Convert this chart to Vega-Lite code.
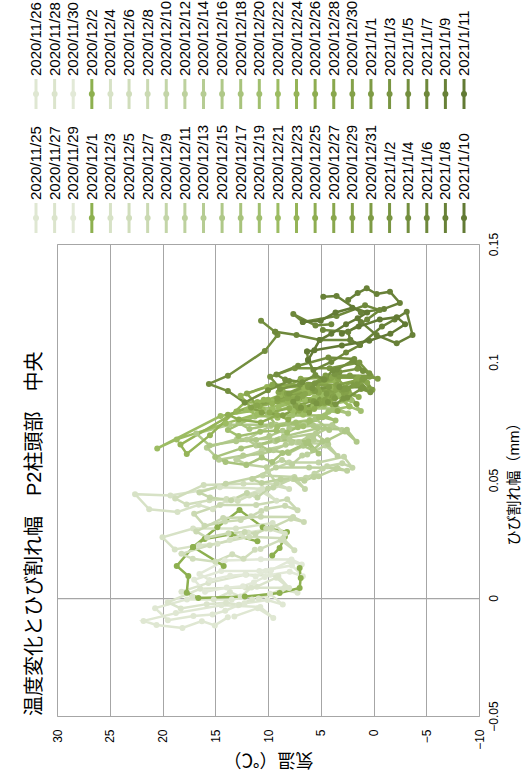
{
  "$schema": "https://vega.github.io/schema/vega-lite/v6.json",
  "width": 422,
  "height": 472,
  "autosize": {"type": "none"},
  "padding": {"left": 57, "top": 244, "right": 52, "bottom": 66},
  "background": "white",
  "config": {
    "font": "Liberation Sans, Noto Sans CJK JP, sans-serif",
    "view": {"stroke": "#a6a6a6", "strokeWidth": 1}
  },
  "title": {
    "text": "温度変化とひび割れ幅　P2柱頭部　中央",
    "orient": "left",
    "anchor": "start",
    "frame": "group",
    "fontSize": 20,
    "fontWeight": "normal",
    "color": "#000000",
    "offset": -16
  },
  "datasets": {
    "days": [
      {"d": "2020/11/25"}, {"d": "2020/11/26"}, {"d": "2020/11/27"}, {"d": "2020/11/28"}, {"d": "2020/11/29"}, {"d": "2020/11/30"},
      {"d": "2020/12/1"}, {"d": "2020/12/2"}, {"d": "2020/12/3"}, {"d": "2020/12/4"}, {"d": "2020/12/5"}, {"d": "2020/12/6"},
      {"d": "2020/12/7"}, {"d": "2020/12/8"}, {"d": "2020/12/9"}, {"d": "2020/12/10"}, {"d": "2020/12/11"}, {"d": "2020/12/12"},
      {"d": "2020/12/13"}, {"d": "2020/12/14"}, {"d": "2020/12/15"}, {"d": "2020/12/16"}, {"d": "2020/12/17"}, {"d": "2020/12/18"},
      {"d": "2020/12/19"}, {"d": "2020/12/20"}, {"d": "2020/12/21"}, {"d": "2020/12/22"}, {"d": "2020/12/23"}, {"d": "2020/12/24"},
      {"d": "2020/12/25"}, {"d": "2020/12/26"}, {"d": "2020/12/27"}, {"d": "2020/12/28"}, {"d": "2020/12/29"}, {"d": "2020/12/30"},
      {"d": "2020/12/31"}, {"d": "2021/1/1"}, {"d": "2021/1/2"}, {"d": "2021/1/3"}, {"d": "2021/1/4"}, {"d": "2021/1/5"},
      {"d": "2021/1/6"}, {"d": "2021/1/7"}, {"d": "2021/1/8"}, {"d": "2021/1/9"}, {"d": "2021/1/10"}, {"d": "2021/1/11"}
    ],
    "readings": [
      {"d":"2020/11/25","t":13.19,"w":-0.0078},{"d":"2020/11/25","t":10.98,"w":-0.0043},{"d":"2020/11/25","t":9.5,"w":-0.0085},{"d":"2020/11/25","t":10.73,"w":-0.0038},{"d":"2020/11/25","t":14.42,"w":-0.0031},{"d":"2020/11/25","t":18.73,"w":-0.0064},{"d":"2020/11/25","t":21.8,"w":-0.0097},{"d":"2020/11/25","t":20.57,"w":-0.0114},{"d":"2020/11/25","t":18.11,"w":-0.0127},{"d":"2020/11/25","t":16.27,"w":-0.0098},{"d":"2020/11/25","t":15.04,"w":-0.0116},{"d":"2020/11/25","t":13.81,"w":-0.0082},
      {"d":"2020/11/26","t":12.23,"w":-0.0022},{"d":"2020/11/26","t":10.05,"w":-0.0009},{"d":"2020/11/26","t":8.6,"w":-0.0028},{"d":"2020/11/26","t":9.81,"w":0.0018},{"d":"2020/11/26","t":13.44,"w":-0.0006},{"d":"2020/11/26","t":17.68,"w":-0.0006},{"d":"2020/11/26","t":20.7,"w":-0.0043},{"d":"2020/11/26","t":19.49,"w":-0.0094},{"d":"2020/11/26","t":17.07,"w":-0.0076},{"d":"2020/11/26","t":15.26,"w":-0.007},{"d":"2020/11/26","t":14.05,"w":-0.0054},{"d":"2020/11/26","t":12.84,"w":-0.0031},
      {"d":"2020/11/27","t":10.89,"w":-0.0002},{"d":"2020/11/27","t":8.68,"w":0.0036},{"d":"2020/11/27","t":7.2,"w":0.0022},{"d":"2020/11/27","t":8.43,"w":0.0043},{"d":"2020/11/27","t":12.12,"w":0.0044},{"d":"2020/11/27","t":16.43,"w":0.0039},{"d":"2020/11/27","t":19.5,"w":-0.0018},{"d":"2020/11/27","t":18.27,"w":-0.0044},{"d":"2020/11/27","t":15.81,"w":-0.0026},{"d":"2020/11/27","t":13.97,"w":-0.002},{"d":"2020/11/27","t":12.74,"w":-0.0029},{"d":"2020/11/27","t":11.51,"w":-0.0006},
      {"d":"2020/11/28","t":11.06,"w":0.0048},{"d":"2020/11/28","t":9.22,"w":0.0086},{"d":"2020/11/28","t":8.0,"w":0.0042},{"d":"2020/11/28","t":9.02,"w":0.0093},{"d":"2020/11/28","t":12.08,"w":0.0099},{"d":"2020/11/28","t":15.65,"w":0.0064},{"d":"2020/11/28","t":18.2,"w":0.0027},{"d":"2020/11/28","t":17.18,"w":0.0006},{"d":"2020/11/28","t":15.14,"w":-0.0006},{"d":"2020/11/28","t":13.61,"w":0.0025},{"d":"2020/11/28","t":12.59,"w":0.0006},{"d":"2020/11/28","t":11.57,"w":0.0044},
      {"d":"2020/11/29","t":9.79,"w":0.0098},{"d":"2020/11/29","t":7.94,"w":0.0111},{"d":"2020/11/29","t":6.7,"w":0.0092},{"d":"2020/11/29","t":7.73,"w":0.0138},{"d":"2020/11/29","t":10.82,"w":0.0114},{"d":"2020/11/29","t":14.43,"w":0.0114},{"d":"2020/11/29","t":17.0,"w":0.0077},{"d":"2020/11/29","t":15.97,"w":0.0026},{"d":"2020/11/29","t":13.91,"w":0.0044},{"d":"2020/11/29","t":12.37,"w":0.005},{"d":"2020/11/29","t":11.34,"w":0.0066},{"d":"2020/11/29","t":10.31,"w":0.0089},
      {"d":"2020/11/30","t":9.71,"w":0.0118},{"d":"2020/11/30","t":7.96,"w":0.0156},{"d":"2020/11/30","t":6.8,"w":0.0142},{"d":"2020/11/30","t":7.77,"w":0.0163},{"d":"2020/11/30","t":10.68,"w":0.0164},{"d":"2020/11/30","t":14.08,"w":0.0159},{"d":"2020/11/30","t":16.5,"w":0.0102},{"d":"2020/11/30","t":15.53,"w":0.0076},{"d":"2020/11/30","t":13.59,"w":0.0094},{"d":"2020/11/30","t":12.14,"w":0.010},{"d":"2020/11/30","t":11.17,"w":0.0091},{"d":"2020/11/30","t":10.2,"w":0.0114},
      {"d":"2020/12/1","t":14.2,"w":0.0136},{"d":"2020/12/1","t":17.1,"w":0.0216},{"d":"2020/12/1","t":18.65,"w":0.0136},{"d":"2020/12/1","t":17.55,"w":0.0093},{"d":"2020/12/1","t":17.7,"w":0.0022},{"d":"2020/12/1","t":16.6,"w":0.0},{"d":"2020/12/1","t":12.2,"w":0.0006},{"d":"2020/12/1","t":8.9,"w":0.0021},{"d":"2020/12/1","t":7.0,"w":0.0042},{"d":"2020/12/1","t":6.9,"w":0.0085},{"d":"2020/12/1","t":7.0,"w":0.0127},
      {"d":"2020/12/2","t":9.6,"w":0.018},{"d":"2020/12/2","t":8.9,"w":0.0212},{"d":"2020/12/2","t":8.4,"w":0.026},{"d":"2020/12/2","t":8.2,"w":0.028},{"d":"2020/12/2","t":10.5,"w":0.030},{"d":"2020/12/2","t":12.7,"w":0.0373},{"d":"2020/12/2","t":14.8,"w":0.030},{"d":"2020/12/2","t":17.1,"w":0.0216},{"d":"2020/12/2","t":16.0,"w":0.025},{"d":"2020/12/2","t":13.5,"w":0.027},{"d":"2020/12/2","t":11.0,"w":0.024},
      {"d":"2020/12/3","t":13.22,"w":0.0418},{"d":"2020/12/3","t":10.81,"w":0.0456},{"d":"2020/12/3","t":9.2,"w":0.0412},{"d":"2020/12/3","t":10.54,"w":0.0463},{"d":"2020/12/3","t":14.56,"w":0.0469},{"d":"2020/12/3","t":19.25,"w":0.0434},{"d":"2020/12/3","t":22.6,"w":0.044},{"d":"2020/12/3","t":21.26,"w":0.0376},{"d":"2020/12/3","t":18.58,"w":0.0364},{"d":"2020/12/3","t":16.57,"w":0.0395},{"d":"2020/12/3","t":15.23,"w":0.0376},{"d":"2020/12/3","t":13.89,"w":0.0414},
      {"d":"2020/12/4","t":11.88,"w":0.0278},{"d":"2020/12/4","t":9.79,"w":0.0291},{"d":"2020/12/4","t":8.4,"w":0.0272},{"d":"2020/12/4","t":9.56,"w":0.0318},{"d":"2020/12/4","t":13.04,"w":0.0294},{"d":"2020/12/4","t":17.1,"w":0.0294},{"d":"2020/12/4","t":20.0,"w":0.0257},{"d":"2020/12/4","t":18.84,"w":0.0206},{"d":"2020/12/4","t":16.52,"w":0.0224},{"d":"2020/12/4","t":14.78,"w":0.023},{"d":"2020/12/4","t":13.62,"w":0.0246},{"d":"2020/12/4","t":12.46,"w":0.0269},
      {"d":"2020/12/5","t":11.24,"w":0.0438},{"d":"2020/12/5","t":9.3,"w":0.0476},{"d":"2020/12/5","t":8.0,"w":0.0462},{"d":"2020/12/5","t":9.08,"w":0.0483},{"d":"2020/12/5","t":12.32,"w":0.0484},{"d":"2020/12/5","t":16.1,"w":0.0479},{"d":"2020/12/5","t":18.8,"w":0.0422},{"d":"2020/12/5","t":17.72,"w":0.0396},{"d":"2020/12/5","t":15.56,"w":0.0414},{"d":"2020/12/5","t":13.94,"w":0.042},{"d":"2020/12/5","t":12.86,"w":0.0411},{"d":"2020/12/5","t":11.78,"w":0.0434},
      {"d":"2020/12/6","t":10.71,"w":0.0208},{"d":"2020/12/6","t":8.78,"w":0.0246},{"d":"2020/12/6","t":7.5,"w":0.0202},{"d":"2020/12/6","t":8.57,"w":0.0253},{"d":"2020/12/6","t":11.78,"w":0.0259},{"d":"2020/12/6","t":15.53,"w":0.0224},{"d":"2020/12/6","t":18.2,"w":0.0187},{"d":"2020/12/6","t":17.13,"w":0.0166},{"d":"2020/12/6","t":14.99,"w":0.0154},{"d":"2020/12/6","t":13.39,"w":0.0185},{"d":"2020/12/6","t":12.32,"w":0.0166},{"d":"2020/12/6","t":11.25,"w":0.0204},
      {"d":"2020/12/7","t":10.14,"w":0.0378},{"d":"2020/12/7","t":8.38,"w":0.0391},{"d":"2020/12/7","t":7.2,"w":0.0372},{"d":"2020/12/7","t":8.18,"w":0.0418},{"d":"2020/12/7","t":11.12,"w":0.0394},{"d":"2020/12/7","t":14.55,"w":0.0394},{"d":"2020/12/7","t":17.0,"w":0.0357},{"d":"2020/12/7","t":16.02,"w":0.0306},{"d":"2020/12/7","t":14.06,"w":0.0324},{"d":"2020/12/7","t":12.59,"w":0.033},{"d":"2020/12/7","t":11.61,"w":0.0346},{"d":"2020/12/7","t":10.63,"w":0.0369},
      {"d":"2020/12/8","t":9.66,"w":0.0298},{"d":"2020/12/8","t":7.82,"w":0.0336},{"d":"2020/12/8","t":6.6,"w":0.0322},{"d":"2020/12/8","t":7.62,"w":0.0343},{"d":"2020/12/8","t":10.68,"w":0.0344},{"d":"2020/12/8","t":14.25,"w":0.0339},{"d":"2020/12/8","t":16.8,"w":0.0282},{"d":"2020/12/8","t":15.78,"w":0.0256},{"d":"2020/12/8","t":13.74,"w":0.0274},{"d":"2020/12/8","t":12.21,"w":0.028},{"d":"2020/12/8","t":11.19,"w":0.0271},{"d":"2020/12/8","t":10.17,"w":0.0294},
      {"d":"2020/12/9","t":9.5,"w":0.0468},{"d":"2020/12/9","t":7.7,"w":0.0506},{"d":"2020/12/9","t":6.5,"w":0.0462},{"d":"2020/12/9","t":7.5,"w":0.0513},{"d":"2020/12/9","t":10.5,"w":0.0519},{"d":"2020/12/9","t":14.0,"w":0.0484},{"d":"2020/12/9","t":16.5,"w":0.0447},{"d":"2020/12/9","t":15.5,"w":0.0426},{"d":"2020/12/9","t":13.5,"w":0.0414},{"d":"2020/12/9","t":12.0,"w":0.0445},{"d":"2020/12/9","t":11.0,"w":0.0426},{"d":"2020/12/9","t":10.0,"w":0.0464},
      {"d":"2020/12/10","t":4.4,"w":0.0558},{"d":"2020/12/10","t":2.96,"w":0.0571},{"d":"2020/12/10","t":2.0,"w":0.0552},{"d":"2020/12/10","t":2.8,"w":0.0598},{"d":"2020/12/10","t":5.2,"w":0.0574},{"d":"2020/12/10","t":8.0,"w":0.0574},{"d":"2020/12/10","t":10.0,"w":0.0537},{"d":"2020/12/10","t":9.2,"w":0.0486},{"d":"2020/12/10","t":7.6,"w":0.0504},{"d":"2020/12/10","t":6.4,"w":0.051},{"d":"2020/12/10","t":5.6,"w":0.0526},{"d":"2020/12/10","t":4.8,"w":0.0549},
      {"d":"2020/12/11","t":5.2,"w":0.0516},{"d":"2020/12/11","t":3.58,"w":0.0547},{"d":"2020/12/11","t":2.5,"w":0.0539},{"d":"2020/12/11","t":3.4,"w":0.0551},{"d":"2020/12/11","t":6.1,"w":0.0553},{"d":"2020/12/11","t":9.25,"w":0.0553},{"d":"2020/12/11","t":11.5,"w":0.0504},{"d":"2020/12/11","t":10.6,"w":0.0487},{"d":"2020/12/11","t":8.8,"w":0.0503},{"d":"2020/12/11","t":7.45,"w":0.0505},{"d":"2020/12/11","t":6.55,"w":0.0497},{"d":"2020/12/11","t":5.65,"w":0.0513},
      {"d":"2020/12/12","t":6.28,"w":0.0608},{"d":"2020/12/12","t":4.55,"w":0.0646},{"d":"2020/12/12","t":3.4,"w":0.0602},{"d":"2020/12/12","t":4.36,"w":0.0653},{"d":"2020/12/12","t":7.24,"w":0.0659},{"d":"2020/12/12","t":10.6,"w":0.0624},{"d":"2020/12/12","t":13.0,"w":0.0587},{"d":"2020/12/12","t":12.04,"w":0.0566},{"d":"2020/12/12","t":10.12,"w":0.0554},{"d":"2020/12/12","t":8.68,"w":0.0585},{"d":"2020/12/12","t":7.72,"w":0.0566},{"d":"2020/12/12","t":6.76,"w":0.0604},
      {"d":"2020/12/13","t":7.75,"w":0.0658},{"d":"2020/12/13","t":5.68,"w":0.0671},{"d":"2020/12/13","t":4.3,"w":0.0652},{"d":"2020/12/13","t":5.45,"w":0.0698},{"d":"2020/12/13","t":8.9,"w":0.0674},{"d":"2020/12/13","t":12.93,"w":0.0674},{"d":"2020/12/13","t":15.8,"w":0.0637},{"d":"2020/12/13","t":14.65,"w":0.0586},{"d":"2020/12/13","t":12.35,"w":0.0604},{"d":"2020/12/13","t":10.63,"w":0.061},{"d":"2020/12/13","t":9.48,"w":0.0626},{"d":"2020/12/13","t":8.33,"w":0.0649},
      {"d":"2020/12/14","t":5.7,"w":0.0688},{"d":"2020/12/14","t":4.08,"w":0.0726},{"d":"2020/12/14","t":3.0,"w":0.0712},{"d":"2020/12/14","t":3.9,"w":0.0733},{"d":"2020/12/14","t":6.6,"w":0.0734},{"d":"2020/12/14","t":9.75,"w":0.0729},{"d":"2020/12/14","t":12.0,"w":0.0672},{"d":"2020/12/14","t":11.1,"w":0.0646},{"d":"2020/12/14","t":9.3,"w":0.0664},{"d":"2020/12/14","t":7.95,"w":0.067},{"d":"2020/12/14","t":7.05,"w":0.0661},{"d":"2020/12/14","t":6.15,"w":0.0684},
      {"d":"2020/12/15","t":4.36,"w":0.0668},{"d":"2020/12/15","t":2.7,"w":0.0706},{"d":"2020/12/15","t":1.6,"w":0.0662},{"d":"2020/12/15","t":2.52,"w":0.0713},{"d":"2020/12/15","t":5.28,"w":0.0719},{"d":"2020/12/15","t":8.5,"w":0.0684},{"d":"2020/12/15","t":10.8,"w":0.0647},{"d":"2020/12/15","t":9.88,"w":0.0626},{"d":"2020/12/15","t":8.04,"w":0.0614},{"d":"2020/12/15","t":6.66,"w":0.0645},{"d":"2020/12/15","t":5.74,"w":0.0626},{"d":"2020/12/15","t":4.82,"w":0.0664},
      {"d":"2020/12/16","t":7.98,"w":0.0718},{"d":"2020/12/16","t":5.71,"w":0.0731},{"d":"2020/12/16","t":4.2,"w":0.0712},{"d":"2020/12/16","t":5.46,"w":0.0758},{"d":"2020/12/16","t":9.24,"w":0.0734},{"d":"2020/12/16","t":13.65,"w":0.0734},{"d":"2020/12/16","t":16.8,"w":0.0697},{"d":"2020/12/16","t":15.54,"w":0.0646},{"d":"2020/12/16","t":13.02,"w":0.0664},{"d":"2020/12/16","t":11.13,"w":0.067},{"d":"2020/12/16","t":9.87,"w":0.0686},{"d":"2020/12/16","t":8.61,"w":0.0709},
      {"d":"2020/12/17","t":5.52,"w":0.0758},{"d":"2020/12/17","t":3.65,"w":0.0796},{"d":"2020/12/17","t":2.4,"w":0.0782},{"d":"2020/12/17","t":3.44,"w":0.0803},{"d":"2020/12/17","t":6.56,"w":0.0804},{"d":"2020/12/17","t":10.2,"w":0.0799},{"d":"2020/12/17","t":12.8,"w":0.0742},{"d":"2020/12/17","t":11.76,"w":0.0716},{"d":"2020/12/17","t":9.68,"w":0.0734},{"d":"2020/12/17","t":8.12,"w":0.074},{"d":"2020/12/17","t":7.08,"w":0.0731},{"d":"2020/12/17","t":6.04,"w":0.0754},
      {"d":"2020/12/18","t":8.14,"w":0.0618},{"d":"2020/12/18","t":6.38,"w":0.0656},{"d":"2020/12/18","t":5.2,"w":0.0612},{"d":"2020/12/18","t":6.18,"w":0.0663},{"d":"2020/12/18","t":9.12,"w":0.0669},{"d":"2020/12/18","t":12.55,"w":0.0634},{"d":"2020/12/18","t":15.0,"w":0.0597},{"d":"2020/12/18","t":14.02,"w":0.0576},{"d":"2020/12/18","t":12.06,"w":0.0564},{"d":"2020/12/18","t":10.59,"w":0.0595},{"d":"2020/12/18","t":9.61,"w":0.0576},{"d":"2020/12/18","t":8.63,"w":0.0614},
      {"d":"2020/12/19","t":3.84,"w":0.0798},{"d":"2020/12/19","t":2.26,"w":0.0811},{"d":"2020/12/19","t":1.2,"w":0.0792},{"d":"2020/12/19","t":2.08,"w":0.0838},{"d":"2020/12/19","t":4.72,"w":0.0814},{"d":"2020/12/19","t":7.8,"w":0.0814},{"d":"2020/12/19","t":10.0,"w":0.0777},{"d":"2020/12/19","t":9.12,"w":0.0726},{"d":"2020/12/19","t":7.36,"w":0.0744},{"d":"2020/12/19","t":6.04,"w":0.075},{"d":"2020/12/19","t":5.16,"w":0.0766},{"d":"2020/12/19","t":4.28,"w":0.0789},
      {"d":"2020/12/20","t":6.66,"w":0.0728},{"d":"2020/12/20","t":4.82,"w":0.0766},{"d":"2020/12/20","t":3.6,"w":0.0752},{"d":"2020/12/20","t":4.62,"w":0.0773},{"d":"2020/12/20","t":7.68,"w":0.0774},{"d":"2020/12/20","t":11.25,"w":0.0769},{"d":"2020/12/20","t":13.8,"w":0.0712},{"d":"2020/12/20","t":12.78,"w":0.0686},{"d":"2020/12/20","t":10.74,"w":0.0704},{"d":"2020/12/20","t":9.21,"w":0.071},{"d":"2020/12/20","t":8.19,"w":0.0701},{"d":"2020/12/20","t":7.17,"w":0.0724},
      {"d":"2020/12/21","t":5.21,"w":0.0818},{"d":"2020/12/21","t":3.46,"w":0.0856},{"d":"2020/12/21","t":2.3,"w":0.0812},{"d":"2020/12/21","t":3.27,"w":0.0863},{"d":"2020/12/21","t":6.18,"w":0.0869},{"d":"2020/12/21","t":9.58,"w":0.0834},{"d":"2020/12/21","t":12.0,"w":0.0797},{"d":"2020/12/21","t":11.03,"w":0.0776},{"d":"2020/12/21","t":9.09,"w":0.0764},{"d":"2020/12/21","t":7.64,"w":0.0795},{"d":"2020/12/21","t":6.67,"w":0.0776},{"d":"2020/12/21","t":5.7,"w":0.0814},
      {"d":"2020/12/22","t":9.0,"w":0.081},{"d":"2020/12/22","t":7.2,"w":0.083},{"d":"2020/12/22","t":5.6,"w":0.085},{"d":"2020/12/22","t":4.8,"w":0.086},{"d":"2020/12/22","t":6.5,"w":0.084},{"d":"2020/12/22","t":10.5,"w":0.080},{"d":"2020/12/22","t":14.5,"w":0.0771},{"d":"2020/12/22","t":20.5,"w":0.0634},{"d":"2020/12/22","t":18.65,"w":0.0672},{"d":"2020/12/22","t":14.0,"w":0.074},{"d":"2020/12/22","t":11.0,"w":0.078},{"d":"2020/12/22","t":9.6,"w":0.080},
      {"d":"2020/12/23","t":10.0,"w":0.084},{"d":"2020/12/23","t":8.2,"w":0.086},{"d":"2020/12/23","t":6.5,"w":0.088},{"d":"2020/12/23","t":5.8,"w":0.089},{"d":"2020/12/23","t":8.8,"w":0.086},{"d":"2020/12/23","t":13.0,"w":0.079},{"d":"2020/12/23","t":18.3,"w":0.065},{"d":"2020/12/23","t":17.7,"w":0.061},{"d":"2020/12/23","t":15.5,"w":0.069},{"d":"2020/12/23","t":12.2,"w":0.0828},{"d":"2020/12/23","t":11.0,"w":0.083},{"d":"2020/12/23","t":10.4,"w":0.084},
      {"d":"2020/12/24","t":5.6,"w":0.0878},{"d":"2020/12/24","t":3.8,"w":0.0891},{"d":"2020/12/24","t":2.6,"w":0.0872},{"d":"2020/12/24","t":3.6,"w":0.0918},{"d":"2020/12/24","t":6.6,"w":0.0894},{"d":"2020/12/24","t":10.1,"w":0.0894},{"d":"2020/12/24","t":12.6,"w":0.0857},{"d":"2020/12/24","t":11.6,"w":0.0806},{"d":"2020/12/24","t":9.6,"w":0.0824},{"d":"2020/12/24","t":8.1,"w":0.083},{"d":"2020/12/24","t":7.1,"w":0.0846},{"d":"2020/12/24","t":6.1,"w":0.0869},
      {"d":"2020/12/25","t":4.22,"w":0.0828},{"d":"2020/12/25","t":2.53,"w":0.0866},{"d":"2020/12/25","t":1.4,"w":0.0852},{"d":"2020/12/25","t":2.34,"w":0.0873},{"d":"2020/12/25","t":5.16,"w":0.0874},{"d":"2020/12/25","t":8.45,"w":0.0869},{"d":"2020/12/25","t":10.8,"w":0.0812},{"d":"2020/12/25","t":9.86,"w":0.0786},{"d":"2020/12/25","t":7.98,"w":0.0804},{"d":"2020/12/25","t":6.57,"w":0.081},{"d":"2020/12/25","t":5.63,"w":0.0801},{"d":"2020/12/25","t":4.69,"w":0.0824},
      {"d":"2020/12/26","t":6.52,"w":0.0798},{"d":"2020/12/26","t":4.65,"w":0.0836},{"d":"2020/12/26","t":3.4,"w":0.0792},{"d":"2020/12/26","t":4.44,"w":0.0843},{"d":"2020/12/26","t":7.56,"w":0.0849},{"d":"2020/12/26","t":11.2,"w":0.0814},{"d":"2020/12/26","t":13.8,"w":0.0777},{"d":"2020/12/26","t":12.76,"w":0.0756},{"d":"2020/12/26","t":10.68,"w":0.0744},{"d":"2020/12/26","t":9.12,"w":0.0775},{"d":"2020/12/26","t":8.08,"w":0.0756},{"d":"2020/12/26","t":7.04,"w":0.0794},
      {"d":"2020/12/27","t":5.28,"w":0.0888},{"d":"2020/12/27","t":3.55,"w":0.0901},{"d":"2020/12/27","t":2.4,"w":0.0882},{"d":"2020/12/27","t":3.36,"w":0.0928},{"d":"2020/12/27","t":6.24,"w":0.0904},{"d":"2020/12/27","t":9.6,"w":0.0904},{"d":"2020/12/27","t":12.0,"w":0.0867},{"d":"2020/12/27","t":11.04,"w":0.0816},{"d":"2020/12/27","t":9.12,"w":0.0834},{"d":"2020/12/27","t":7.68,"w":0.084},{"d":"2020/12/27","t":6.72,"w":0.0856},{"d":"2020/12/27","t":5.76,"w":0.0879},
      {"d":"2020/12/28","t":3.12,"w":0.0888},{"d":"2020/12/28","t":1.61,"w":0.0926},{"d":"2020/12/28","t":0.6,"w":0.0912},{"d":"2020/12/28","t":1.44,"w":0.0933},{"d":"2020/12/28","t":3.96,"w":0.0934},{"d":"2020/12/28","t":6.9,"w":0.0929},{"d":"2020/12/28","t":9.0,"w":0.0872},{"d":"2020/12/28","t":8.16,"w":0.0846},{"d":"2020/12/28","t":6.48,"w":0.0864},{"d":"2020/12/28","t":5.22,"w":0.087},{"d":"2020/12/28","t":4.38,"w":0.0861},{"d":"2020/12/28","t":3.54,"w":0.0884},
      {"d":"2020/12/29","t":4.6,"w":0.0828},{"d":"2020/12/29","t":2.8,"w":0.0866},{"d":"2020/12/29","t":1.6,"w":0.0822},{"d":"2020/12/29","t":2.6,"w":0.0873},{"d":"2020/12/29","t":5.6,"w":0.0879},{"d":"2020/12/29","t":9.1,"w":0.0844},{"d":"2020/12/29","t":11.6,"w":0.0807},{"d":"2020/12/29","t":10.6,"w":0.0786},{"d":"2020/12/29","t":8.6,"w":0.0774},{"d":"2020/12/29","t":7.1,"w":0.0805},{"d":"2020/12/29","t":6.1,"w":0.0786},{"d":"2020/12/29","t":5.1,"w":0.0824},
      {"d":"2020/12/30","t":2.6,"w":0.0888},{"d":"2020/12/30","t":1.16,"w":0.0901},{"d":"2020/12/30","t":0.2,"w":0.0882},{"d":"2020/12/30","t":1.0,"w":0.0928},{"d":"2020/12/30","t":3.4,"w":0.0904},{"d":"2020/12/30","t":6.2,"w":0.0904},{"d":"2020/12/30","t":8.2,"w":0.0867},{"d":"2020/12/30","t":7.4,"w":0.0816},{"d":"2020/12/30","t":5.8,"w":0.0834},{"d":"2020/12/30","t":4.6,"w":0.084},{"d":"2020/12/30","t":3.8,"w":0.0856},{"d":"2020/12/30","t":3.0,"w":0.0879},
      {"d":"2020/12/31","t":1.58,"w":0.0906},{"d":"2020/12/31","t":0.39,"w":0.0937},{"d":"2020/12/31","t":-0.4,"w":0.0929},{"d":"2020/12/31","t":0.26,"w":0.0941},{"d":"2020/12/31","t":2.24,"w":0.0943},{"d":"2020/12/31","t":4.55,"w":0.0943},{"d":"2020/12/31","t":6.2,"w":0.0894},{"d":"2020/12/31","t":5.54,"w":0.0877},{"d":"2020/12/31","t":4.22,"w":0.0893},{"d":"2020/12/31","t":3.23,"w":0.0895},{"d":"2020/12/31","t":2.57,"w":0.0887},{"d":"2020/12/31","t":1.91,"w":0.0903},
      {"d":"2021/1/1","t":2.47,"w":0.0888},{"d":"2021/1/1","t":1.05,"w":0.0926},{"d":"2021/1/1","t":0.1,"w":0.0882},{"d":"2021/1/1","t":0.89,"w":0.0933},{"d":"2021/1/1","t":3.26,"w":0.0939},{"d":"2021/1/1","t":6.03,"w":0.0904},{"d":"2021/1/1","t":8.0,"w":0.0867},{"d":"2021/1/1","t":7.21,"w":0.0846},{"d":"2021/1/1","t":5.63,"w":0.0834},{"d":"2021/1/1","t":4.45,"w":0.0865},{"d":"2021/1/1","t":3.66,"w":0.0846},{"d":"2021/1/1","t":2.87,"w":0.0884},
      {"d":"2021/1/2","t":3.22,"w":0.0958},{"d":"2021/1/2","t":1.53,"w":0.0971},{"d":"2021/1/2","t":0.4,"w":0.0952},{"d":"2021/1/2","t":1.34,"w":0.0998},{"d":"2021/1/2","t":4.16,"w":0.0974},{"d":"2021/1/2","t":7.45,"w":0.0974},{"d":"2021/1/2","t":9.8,"w":0.0937},{"d":"2021/1/2","t":8.86,"w":0.0886},{"d":"2021/1/2","t":6.98,"w":0.0904},{"d":"2021/1/2","t":5.57,"w":0.091},{"d":"2021/1/2","t":4.63,"w":0.0926},{"d":"2021/1/2","t":3.69,"w":0.0949},
      {"d":"2021/1/3","t":2.49,"w":0.0848},{"d":"2021/1/3","t":1.18,"w":0.0886},{"d":"2021/1/3","t":0.3,"w":0.0872},{"d":"2021/1/3","t":1.03,"w":0.0893},{"d":"2021/1/3","t":3.22,"w":0.0894},{"d":"2021/1/3","t":5.78,"w":0.0889},{"d":"2021/1/3","t":7.6,"w":0.0832},{"d":"2021/1/3","t":6.87,"w":0.0806},{"d":"2021/1/3","t":5.41,"w":0.0824},{"d":"2021/1/3","t":4.32,"w":0.083},{"d":"2021/1/3","t":3.59,"w":0.0821},{"d":"2021/1/3","t":2.86,"w":0.0844},
      {"d":"2021/1/4","t":3.46,"w":0.0968},{"d":"2021/1/4","t":1.98,"w":0.1006},{"d":"2021/1/4","t":1.0,"w":0.0962},{"d":"2021/1/4","t":1.82,"w":0.1013},{"d":"2021/1/4","t":4.28,"w":0.1019},{"d":"2021/1/4","t":7.15,"w":0.0984},{"d":"2021/1/4","t":9.2,"w":0.0947},{"d":"2021/1/4","t":8.38,"w":0.0926},{"d":"2021/1/4","t":6.74,"w":0.0914},{"d":"2021/1/4","t":5.51,"w":0.0945},{"d":"2021/1/4","t":4.69,"w":0.0926},{"d":"2021/1/4","t":3.87,"w":0.0964},
      {"d":"2021/1/5","t":8.0,"w":0.092},{"d":"2021/1/5","t":10.0,"w":0.088},{"d":"2021/1/5","t":12.2,"w":0.0828},{"d":"2021/1/5","t":13.8,"w":0.0877},{"d":"2021/1/5","t":15.6,"w":0.0907},{"d":"2021/1/5","t":13.8,"w":0.0942},{"d":"2021/1/5","t":10.3,"w":0.1047},{"d":"2021/1/5","t":9.1,"w":0.1114},{"d":"2021/1/5","t":9.34,"w":0.1128},{"d":"2021/1/5","t":10.66,"w":0.1175},
      {"d":"2021/1/6","t":9.3,"w":0.1128},{"d":"2021/1/6","t":7.3,"w":0.1114},{"d":"2021/1/6","t":5.1,"w":0.1093},{"d":"2021/1/6","t":2.2,"w":0.1093},{"d":"2021/1/6","t":1.28,"w":0.1072},{"d":"2021/1/6","t":2.6,"w":0.104},{"d":"2021/1/6","t":4.0,"w":0.100},{"d":"2021/1/6","t":5.7,"w":0.0966},{"d":"2021/1/6","t":6.2,"w":0.1008},{"d":"2021/1/6","t":6.3,"w":0.1044},
      {"d":"2021/1/7","t":4.8,"w":0.1136},{"d":"2021/1/7","t":2.4,"w":0.1128},{"d":"2021/1/7","t":0.6,"w":0.118},{"d":"2021/1/7","t":-0.6,"w":0.122},{"d":"2021/1/7","t":0.8,"w":0.124},{"d":"2021/1/7","t":3.5,"w":0.1195},{"d":"2021/1/7","t":6.7,"w":0.117},{"d":"2021/1/7","t":7.6,"w":0.1203},{"d":"2021/1/7","t":5.5,"w":0.1155},{"d":"2021/1/7","t":4.0,"w":0.116},
      {"d":"2021/1/8","t":2.4,"w":0.1263},{"d":"2021/1/8","t":1.5,"w":0.1292},{"d":"2021/1/8","t":0.64,"w":0.1312},{"d":"2021/1/8","t":-0.3,"w":0.1288},{"d":"2021/1/8","t":-1.56,"w":0.1298},{"d":"2021/1/8","t":-2.5,"w":0.125},{"d":"2021/1/8","t":-1.0,"w":0.1225},{"d":"2021/1/8","t":1.2,"w":0.121},{"d":"2021/1/8","t":3.5,"w":0.128},{"d":"2021/1/8","t":4.76,"w":0.1277},
      {"d":"2021/1/9","t":1.2,"w":0.117},{"d":"2021/1/9","t":-0.3,"w":0.1114},{"d":"2021/1/9","t":-2.2,"w":0.1079},{"d":"2021/1/9","t":-3.7,"w":0.1114},{"d":"2021/1/9","t":-3.15,"w":0.1213},{"d":"2021/1/9","t":-2.0,"w":0.118},{"d":"2021/1/9","t":-0.8,"w":0.115},{"d":"2021/1/9","t":1.28,"w":0.1072},{"d":"2021/1/9","t":2.2,"w":0.1093},{"d":"2021/1/9","t":2.4,"w":0.1128},
      {"d":"2021/1/10","t":3.0,"w":0.112},{"d":"2021/1/10","t":1.4,"w":0.115},{"d":"2021/1/10","t":-0.6,"w":0.118},{"d":"2021/1/10","t":-2.2,"w":0.119},{"d":"2021/1/10","t":-3.0,"w":0.116},{"d":"2021/1/10","t":-1.6,"w":0.112},{"d":"2021/1/10","t":0.4,"w":0.109},{"d":"2021/1/10","t":3.0,"w":0.107},{"d":"2021/1/10","t":5.6,"w":0.105},{"d":"2021/1/10","t":6.3,"w":0.1044},
      {"d":"2021/1/11","t":6.2,"w":0.1008},{"d":"2021/1/11","t":5.1,"w":0.1093},{"d":"2021/1/11","t":4.0,"w":0.112},{"d":"2021/1/11","t":2.6,"w":0.116},{"d":"2021/1/11","t":1.5,"w":0.1185},{"d":"2021/1/11","t":0.6,"w":0.121},{"d":"2021/1/11","t":2.0,"w":0.123},{"d":"2021/1/11","t":3.6,"w":0.121},{"d":"2021/1/11","t":5.0,"w":0.1175},{"d":"2021/1/11","t":6.7,"w":0.117}
    ]
  },
  "layer": [
    {
      "data": {"name": "readings"},
      "mark": {"type": "line", "strokeWidth": 2.5, "point": {"filled": true, "size": 36, "opacity": 1}},
      "encoding": {
        "x": {
          "field": "t", "type": "quantitative",
          "scale": {"domain": [-10, 30], "reverse": true, "nice": false, "zero": false},
          "axis": {
            "orient": "bottom", "values": [-10, -5, 0, 5, 10, 15, 20, 25, 30],
            "grid": true, "gridColor": "#a6a6a6", "gridWidth": 1,
            "domain": false, "ticks": false, "tickSize": 0,
            "labelAngle": 270, "labelAlign": "right", "labelBaseline": "middle",
            "labelPadding": 13, "labelFontSize": 12, "labelColor": "#000000",
            "labelFlush": false, "labelOverlap": false,
            "title": "気温（℃）", "titleAngle": 180, "titleBaseline": "bottom",
            "titleFont": "Noto Sans CJK JP",
            "titleFontSize": 18, "titleFontWeight": "normal", "titleColor": "#000000", "titlePadding": 0
          }
        },
        "y": {
          "field": "w", "type": "quantitative",
          "scale": {"domain": [-0.05, 0.15], "nice": false, "zero": false},
          "axis": {
            "orient": "right", "values": [-0.05, 0, 0.05, 0.1, 0.15],
            "labelExpr": "format(datum.value, '')",
            "grid": true, "gridColor": "#a6a6a6", "gridWidth": 1.25,
            "gridOpacity": {"condition": {"test": "datum.value === 0", "value": 1}, "value": 0},
            "domain": false, "ticks": false, "tickSize": 0,
            "labelAngle": 270, "labelAlign": "center", "labelBaseline": "top",
            "labelPadding": 9, "labelFontSize": 12, "labelColor": "#000000",
            "labelFlush": false, "labelOverlap": false,
            "title": "ひび割れ幅（mm）", "titleAngle": 270, "titleBaseline": "top",
            "titleFontSize": 15, "titleFontWeight": "normal", "titleColor": "#000000", "titlePadding": 7
          }
        },
        "color": {
          "field": "d", "type": "nominal", "legend": null,
          "scale": {
            "domain": ["2020/11/25","2020/11/26","2020/11/27","2020/11/28","2020/11/29","2020/11/30","2020/12/1","2020/12/2","2020/12/3","2020/12/4","2020/12/5","2020/12/6","2020/12/7","2020/12/8","2020/12/9","2020/12/10","2020/12/11","2020/12/12","2020/12/13","2020/12/14","2020/12/15","2020/12/16","2020/12/17","2020/12/18","2020/12/19","2020/12/20","2020/12/21","2020/12/22","2020/12/23","2020/12/24","2020/12/25","2020/12/26","2020/12/27","2020/12/28","2020/12/29","2020/12/30","2020/12/31","2021/1/1","2021/1/2","2021/1/3","2021/1/4","2021/1/5","2021/1/6","2021/1/7","2021/1/8","2021/1/9","2021/1/10","2021/1/11"],
            "range": ["#dfe7d2","#dfe7d2","#dbe4cc","#dbe4cc","#e2e9d7","#e2e9d7","#8db04f","#8db04f","#d7e2c6","#d7e2c6","#d0ddbb","#d0ddbb","#cad9b2","#cad9b2","#c3d5a8","#c3d5a8","#bdd19e","#bdd19e","#b6cc93","#b6cc93","#afc888","#afc888","#a8c37c","#a8c37c","#a1bf6f","#a1bf6f","#9cbc62","#9cbc62","#95b457","#95b457","#8ead51","#8ead51","#89a74d","#89a74d","#84a149","#84a149","#7e9b45","#7e9b45","#799542","#799542","#738e3e","#738e3e","#6e883b","#6e883b","#688138","#688138","#627a34","#627a34"]
          }
        },
        "order": {"value": null}
      }
    },
    {
      "data": {"name": "days"},
      "transform": [
        {"window": [{"op": "row_number", "as": "n"}]},
        {"calculate": "floor((datum.n - 1) / 2)", "as": "col"},
        {"calculate": "(datum.n - 1) % 2", "as": "row"}
      ],
      "encoding": {
        "x": {"field": "col", "type": "quantitative", "scale": {"domain": [1.1285, 23.806], "nice": false, "zero": false}, "axis": null},
        "y": {"field": "row", "type": "quantitative", "scale": {"domain": [-4.0161, -0.2097], "nice": false, "zero": false}, "axis": null},
        "color": {"field": "d", "type": "nominal", "legend": null}
      },
      "layer": [
        {"mark": {"type": "point", "shape": "M0,-1V1", "size": 900, "strokeWidth": 3, "filled": false, "opacity": 1}},
        {"mark": {"type": "point", "shape": "circle", "filled": true, "size": 36, "opacity": 1}},
        {
          "mark": {"type": "text", "angle": 270, "align": "left", "baseline": "middle", "dx": 18, "fontSize": 15},
          "encoding": {"text": {"field": "d"}, "color": {"value": "#000000"}}
        }
      ]
    }
  ],
  "resolve": {"scale": {"x": "independent", "y": "independent"}}
}
